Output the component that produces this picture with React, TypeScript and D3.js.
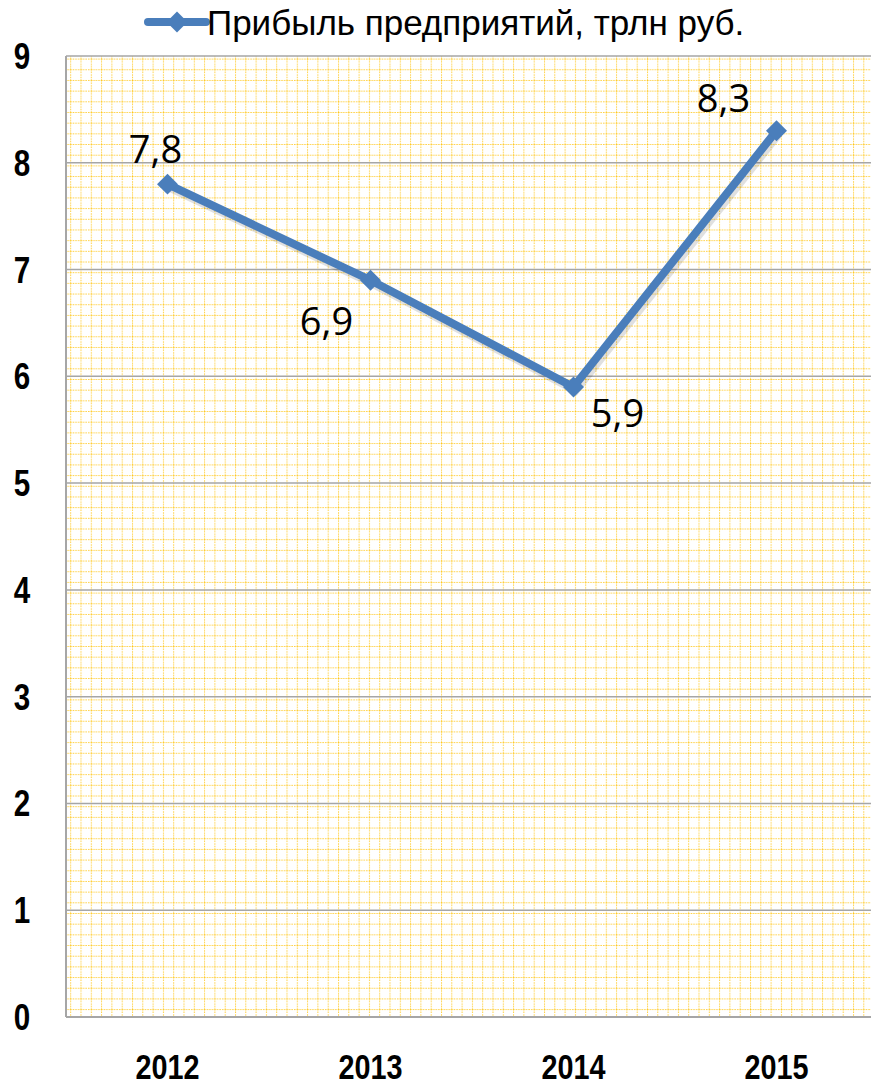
import React, { useEffect, useRef } from "react";
import * as d3 from "d3";

const years = ["2012", "2013", "2014", "2015"];
const profit = [7.8, 6.9, 5.9, 8.3];
const labels = ["7,8", "6,9", "5,9", "8,3"];
const yTicks = [0, 1, 2, 3, 4, 5, 6, 7, 8, 9];
const legendText = "Прибыль предприятий, трлн руб.";

// label placement around each point (dx, dy)
const labelOffsets = [
  [-12, -21],
  [-44, 55],
  [44, 40],
  [-53, -19],
];

export default function App() {
  const svgRef = useRef<SVGSVGElement>(null);

  useEffect(() => {
    if (!svgRef.current) return;
    const W = 871, H = 1088;
    const margin = { top: 56, right: 0, bottom: 71, left: 66 };
    const width = W - margin.left - margin.right;
    const height = H - margin.top - margin.bottom;

    const root = d3.select(svgRef.current);
    root.selectAll("*").remove();
    root.attr("width", W).attr("height", H);

    const defs = root.append("defs");
    const pat = defs.append("pattern")
      .attr("id", "smallgrid")
      .attr("width", 10.3)
      .attr("height", 10.68)
      .attr("patternUnits", "userSpaceOnUse")
      .attr("x", margin.left)
      .attr("y", margin.top);
    pat.append("rect").attr("width", 10.3).attr("height", 10.68).attr("fill", "#fff");
    pat.append("line").attr("x1", 0).attr("x2", 10.3).attr("y1", 0.5).attr("y2", 0.5)
      .attr("stroke", "#ffc000").attr("stroke-width", 1).attr("stroke-dasharray", "1.5,1").attr("opacity", 0.75);
    pat.append("line").attr("x1", 0.5).attr("x2", 0.5).attr("y1", 0).attr("y2", 10.68)
      .attr("stroke", "#ffc000").attr("stroke-width", 1).attr("stroke-dasharray", "1.5,1").attr("opacity", 0.75);

    const svg = root.append("g").attr("transform", `translate(${margin.left},${margin.top})`);

    svg.append("rect").attr("width", width).attr("height", height).attr("fill", "url(#smallgrid)");

    const x = d3.scaleBand().domain(years).range([0, 812]);
    const y = d3.scaleLinear().domain([0, 9]).range([height, 0]);

    // Horizontal gridlines
    svg.append("g")
      .selectAll("line")
      .data(yTicks.filter(d => d > 0))
      .join("line")
      .attr("x1", 0).attr("x2", width)
      .attr("y1", d => y(d)).attr("y2", d => y(d))
      .attr("stroke", "#a6a6a6").attr("stroke-width", 1.5);

    // Axis lines
    svg.append("line").attr("x1", 0).attr("x2", 0).attr("y1", 0).attr("y2", height)
      .attr("stroke", "#a6a6a6").attr("stroke-width", 2);
    svg.append("line").attr("x1", 0).attr("x2", width).attr("y1", height).attr("y2", height)
      .attr("stroke", "#a6a6a6").attr("stroke-width", 2);

    const font = "'Liberation Sans', Arial, sans-serif";
    const narrow = 0.8;

    // Y labels (condensed bold)
    svg.append("g")
      .selectAll("text")
      .data(yTicks)
      .join("text")
      .attr("transform", d => `translate(-44,${y(d) + 13}) scale(${narrow},1)`)
      .attr("text-anchor", "middle")
      .style("font-family", font)
      .style("font-weight", "bold")
      .style("font-size", "37px")
      .attr("fill", "#000")
      .text(d => d);

    // X labels
    svg.append("g")
      .selectAll("text")
      .data(years)
      .join("text")
      .attr("transform", d => `translate(${(x(d) ?? 0) + x.bandwidth() / 2},${height + 62}) scale(${narrow},1)`)
      .attr("text-anchor", "middle")
      .style("font-family", font)
      .style("font-weight", "bold")
      .style("font-size", "36px")
      .attr("fill", "#000")
      .text(d => d);

    const pts = years.map((yr, i) => ({ yr, v: profit[i], label: labels[i], off: labelOffsets[i] }));
    const px = (d: any) => (x(d.yr) ?? 0) + x.bandwidth() / 2;

    // Shadow + line
    const line = d3.line<any>().x(px).y(d => y(d.v));
    svg.append("path").datum(pts).attr("fill", "none").attr("stroke", "#000").attr("opacity", 0.12)
      .attr("stroke-width", 9).attr("transform", "translate(2,3)").attr("d", line);
    svg.append("path").datum(pts).attr("fill", "none").attr("stroke", "#4a7ebb")
      .attr("stroke-width", 8).attr("stroke-linejoin", "round").attr("d", line);

    const diamond = d3.symbol().type(d3.symbolDiamond2).size(280);
    svg.append("g").selectAll("path")
      .data(pts)
      .join("path")
      .attr("transform", d => `translate(${px(d)},${y(d.v)})`)
      .attr("d", diamond)
      .attr("fill", "#4a7ebb");

    svg.append("g").selectAll("text")
      .data(pts)
      .join("text")
      .attr("x", d => px(d) + d.off[0])
      .attr("y", d => y(d.v) + d.off[1])
      .attr("text-anchor", "middle")
      .style("font-family", "'Open Sans', 'Liberation Sans', sans-serif")
      .style("font-size", "38px")
      .attr("fill", "#000")
      .text(d => d.label);

    // Legend
    const lg = root.append("g").attr("transform", "translate(148,22)");
    lg.append("line").attr("x1", 0).attr("x2", 58).attr("y1", 0).attr("y2", 0)
      .attr("stroke", "#4a7ebb").attr("stroke-width", 8).attr("stroke-linecap", "round");
    lg.append("path").attr("transform", "translate(29,0)").attr("d", diamond).attr("fill", "#4a7ebb");
    lg.append("text").attr("x", 59).attr("y", 13)
      .style("font-family", font)
      .style("font-size", "35px")
      .attr("fill", "#000")
      .text(legendText);
  }, []);

  return (
    <div style={{ position: "absolute", left: 0, top: 0 }}>
      <svg ref={svgRef} style={{ display: "block" }}></svg>
    </div>
  );
}
